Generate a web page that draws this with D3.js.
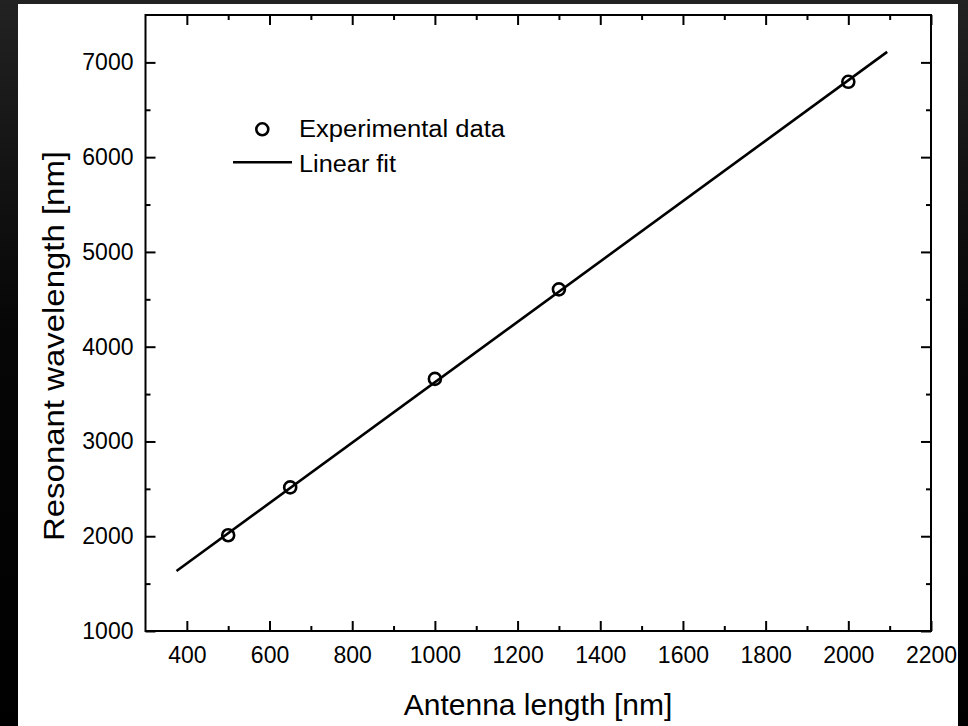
<!DOCTYPE html>
<html>
<head>
<meta charset="utf-8">
<script src="https://cdn.jsdelivr.net/npm/d3@7"></script>
<style>
  html, body { margin: 0; padding: 0; background: #000; }
  svg { display: block; font-family: "Liberation Sans", Arial, sans-serif; }
</style>
</head>
<body>
<div id="chart"></div>
<script>
var width = 968, height = 726;

// data
var antennaLength = [500, 650, 1000, 1300, 2000];
var wavelength = [2010, 2515, 3660, 4605, 6795];
var fitLength = [375, 2094];
var fitWavelength = [1633, 7111];

var xTicks = [400, 600, 800, 1000, 1200, 1400, 1600, 1800, 2000, 2200];
var xMinor = [500, 700, 900, 1100, 1300, 1500, 1700, 1900, 2100];
var yTicks = [1000, 2000, 3000, 4000, 5000, 6000, 7000];
var yMinor = [1500, 2500, 3500, 4500, 5500, 6500];

var legendLabels = ["Experimental data", "Linear fit"];

var box = {left: 145.5, right: 931, top: 15, bottom: 631};

var svg = d3.select("#chart").append("svg")
  .attr("width", width)
  .attr("height", height);

var defs = svg.append("defs");
var grad = defs.append("linearGradient")
  .attr("id", "bg").attr("x1", 0).attr("y1", 0).attr("x2", 0).attr("y2", 1);
grad.append("stop").attr("offset", "0%").attr("stop-color", "#222");
grad.append("stop").attr("offset", "45%").attr("stop-color", "#060606");
grad.append("stop").attr("offset", "100%").attr("stop-color", "#000");

svg.append("rect").attr("width", width).attr("height", height).attr("fill", "url(#bg)");
svg.append("rect")
  .attr("x", 18).attr("y", 4)
  .attr("width", 940).attr("height", height - 4)
  .attr("fill", "#fff");

var x = d3.scaleLinear().domain([300, 2200]).range([box.left, box.right]);
var y = d3.scaleLinear().domain([1000, 7500]).range([box.bottom, box.top]);

function styleAxis(g) {
  g.select(".domain").remove();
  g.selectAll(".tick line").attr("stroke", "#000").attr("stroke-width", 2);
  g.selectAll(".tick text")
    .attr("fill", "#000")
    .style("font-size", "23px")
    .style("font-family", "'Liberation Sans', Arial, sans-serif");
}

// major ticks, pointing inward
svg.append("g")
  .attr("transform", "translate(0," + box.bottom + ")")
  .call(d3.axisBottom(x).tickValues(xTicks).tickFormat(d3.format("d")).tickSizeInner(-10).tickSizeOuter(0).tickPadding(16))
  .call(styleAxis);
svg.append("g")
  .attr("transform", "translate(0," + box.bottom + ")")
  .call(d3.axisBottom(x).tickValues(xMinor).tickFormat("").tickSizeInner(-5).tickSizeOuter(0))
  .call(styleAxis);
svg.append("g")
  .attr("transform", "translate(0," + box.top + ")")
  .call(d3.axisTop(x).tickValues(xTicks).tickFormat("").tickSizeInner(-10).tickSizeOuter(0))
  .call(styleAxis);
svg.append("g")
  .attr("transform", "translate(0," + box.top + ")")
  .call(d3.axisTop(x).tickValues(xMinor).tickFormat("").tickSizeInner(-5).tickSizeOuter(0))
  .call(styleAxis);

svg.append("g")
  .attr("transform", "translate(" + box.left + ",0)")
  .call(d3.axisLeft(y).tickValues(yTicks).tickFormat(d3.format("d")).tickSizeInner(-10).tickSizeOuter(0).tickPadding(12))
  .call(styleAxis);
svg.append("g")
  .attr("transform", "translate(" + box.left + ",0)")
  .call(d3.axisLeft(y).tickValues(yMinor).tickFormat("").tickSizeInner(-5).tickSizeOuter(0))
  .call(styleAxis);
svg.append("g")
  .attr("transform", "translate(" + box.right + ",0)")
  .call(d3.axisRight(y).tickValues(yTicks).tickFormat("").tickSizeInner(-10).tickSizeOuter(0))
  .call(styleAxis);
svg.append("g")
  .attr("transform", "translate(" + box.right + ",0)")
  .call(d3.axisRight(y).tickValues(yMinor).tickFormat("").tickSizeInner(-5).tickSizeOuter(0))
  .call(styleAxis);

// frame
svg.append("rect")
  .attr("x", box.left).attr("y", box.top)
  .attr("width", box.right - box.left).attr("height", box.bottom - box.top)
  .attr("fill", "none").attr("stroke", "#000").attr("stroke-width", 2);

// linear fit
var fitPts = fitLength.map(function (d, i) { return [d, fitWavelength[i]]; });
svg.append("path")
  .datum(fitPts)
  .attr("d", d3.line().x(function (d) { return x(d[0]); }).y(function (d) { return y(d[1]); }))
  .attr("fill", "none")
  .attr("stroke", "#000")
  .attr("stroke-width", 2.6);

// experimental points
svg.append("g")
  .selectAll("circle")
  .data(antennaLength)
  .enter()
  .append("circle")
    .attr("cx", function (d) { return x(d); })
    .attr("cy", function (d, i) { return y(wavelength[i]); })
    .attr("r", 6)
    .attr("fill", "none")
    .attr("stroke", "#000")
    .attr("stroke-width", 2.6);

// legend
var legend = svg.append("g");
legend.append("circle")
  .attr("cx", 262.3).attr("cy", 129.3).attr("r", 6)
  .attr("fill", "none").attr("stroke", "#000").attr("stroke-width", 2.6);
legend.append("line")
  .attr("x1", 233).attr("x2", 292).attr("y1", 162.3).attr("y2", 162.3)
  .attr("stroke", "#000").attr("stroke-width", 2.6);
legend.append("text")
  .attr("x", 299).attr("y", 137)
  .attr("textLength", 206).attr("lengthAdjust", "spacingAndGlyphs")
  .style("font-size", "23px")
  .text(legendLabels[0]);
legend.append("text")
  .attr("x", 299).attr("y", 172)
  .attr("textLength", 97).attr("lengthAdjust", "spacingAndGlyphs")
  .style("font-size", "23px")
  .text(legendLabels[1]);

// axis titles
svg.append("text")
  .attr("x", 538).attr("y", 715)
  .attr("text-anchor", "middle")
  .style("font-size", "30px")
  .text("Antenna length [nm]");
svg.append("text")
  .attr("transform", "translate(63.5,346) rotate(-90)")
  .attr("text-anchor", "middle")
  .attr("textLength", 390).attr("lengthAdjust", "spacingAndGlyphs")
  .style("font-size", "30px")
  .text("Resonant wavelength [nm]");
</script>
</body>
</html>
